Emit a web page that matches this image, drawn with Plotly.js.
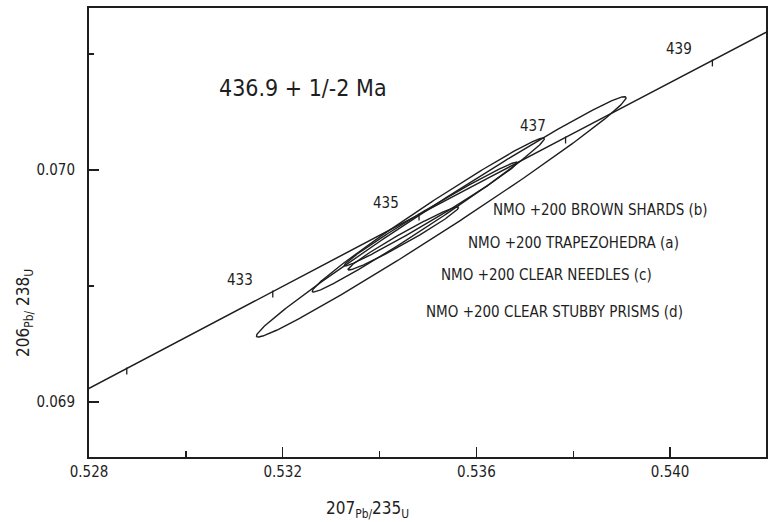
<!DOCTYPE html>
<html>
<head>
<meta charset="utf-8">
<script src="https://cdn.plot.ly/plotly-3.0.1.min.js"></script>
<style>html,body{margin:0;padding:0;background:#fff;}#chart{width:768px;height:522px;}</style>
</head>
<body>
<div id="chart"></div>
<script>
// Concordia curve points (age in Ma, 207Pb/235U, 206Pb/238U)
const ages  = [430, 431, 432, 433, 434, 435, 436, 437, 438, 439, 440];
const concX = [0.527276, 0.528780, 0.530287, 0.531795, 0.533304, 0.534815, 0.536327, 0.537841, 0.539356, 0.540873, 0.542391];
const concY = [0.0689787, 0.0691446, 0.0693104, 0.0694763, 0.0696423, 0.0698082, 0.0699742, 0.0701402, 0.0703062, 0.0704722, 0.0706383];
const tickAges  = [431, 433, 435, 437, 439];
const labelAges = [433, 435, 437, 439];

// Error ellipses (centre, sigma x, sigma y, correlation)
const ellNames = ["NMO +200 BROWN SHARDS (b)", "NMO +200 TRAPEZOHEDRA (a)", "NMO +200 CLEAR NEEDLES (c)", "NMO +200 CLEAR STUBBY PRISMS (d)"];
const ellX   = [0.535274, 0.535006, 0.535058, 0.534492];
const ellY   = [0.069798, 0.069806, 0.069810, 0.069705];
const ellSX  = [0.003817, 0.002397, 0.001790, 0.001142];
const ellSY  = [0.000518, 0.000332, 0.000224, 0.000136];
const ellRho = [0.9911, 0.9898, 0.9909, 0.9817];

const ageText = "436.9 + 1/-2 Ma";
const xTicks = [0.528, 0.532, 0.536, 0.540];
const yTicks = [0.069, 0.070];

const FONT = "'Liberation Sans Narrow', 'DejaVu Sans Condensed', 'Arial Narrow', sans-serif";
const INK = "#1e1e1e";

const traces = [];
traces.push({x: concX, y: concY, mode: "lines", line: {color: INK, width: 1.5}, hoverinfo: "skip", showlegend: false});

// age ticks on concordia
const tx = [], ty = [];
tickAges.forEach(a => {
  const i = ages.indexOf(a);
  tx.push(concX[i], concX[i], null);
  ty.push(concY[i] + 0.000004, concY[i] - 0.000026, null);
});
traces.push({x: tx, y: ty, mode: "lines", line: {color: INK, width: 1.3}, hoverinfo: "skip", showlegend: false});

// ellipses
for (let k = 0; k < ellX.length; k++) {
  const ex = [], ey = [];
  const s = Math.sqrt(1 - ellRho[k] * ellRho[k]);
  for (let j = 0; j <= 360; j++) {
    const t = j * Math.PI / 180;
    ex.push(ellX[k] + ellSX[k] * Math.cos(t));
    ey.push(ellY[k] + ellSY[k] * (ellRho[k] * Math.cos(t) + s * Math.sin(t)));
  }
  traces.push({x: ex, y: ey, mode: "lines", name: ellNames[k], line: {color: INK, width: 1.4}, hoverinfo: "skip", showlegend: false});
}

const annotations = [];
labelAges.forEach(a => {
  const i = ages.indexOf(a);
  annotations.push({x: concX[i], y: concY[i], xref: "x", yref: "y", text: String(a), showarrow: false,
    xanchor: "center", yanchor: "middle",
    xshift: -33, yshift: 11, font: {family: FONT, size: 15, color: INK}});
});
annotations.push({x: 0.316, y: 0.822, xref: "paper", yref: "paper", text: ageText, showarrow: false,
  xanchor: "center", yanchor: "middle", font: {family: FONT, size: 23, color: INK}});
const labPos = [[0.755, 0.550], [0.716, 0.477], [0.676, 0.405], [0.688, 0.323]];
ellNames.forEach((n, k) => {
  annotations.push({x: labPos[k][0], y: labPos[k][1], xref: "paper", yref: "paper", text: n, showarrow: false,
    xanchor: "center", yanchor: "middle", font: {family: FONT, size: 15, color: INK}});
});
annotations.push({x: 0.412, y: -0.118, xref: "paper", yref: "paper", showarrow: false,
  xanchor: "center", yanchor: "middle",
  text: "207<sub>Pb/</sub>235<sub>U</sub>", font: {family: FONT, size: 17, color: INK}});
annotations.push({x: -0.0945, y: 0.321, xref: "paper", yref: "paper", showarrow: false, textangle: -90,
  xanchor: "center", yanchor: "middle",
  text: "206<sub>Pb/</sub> 238<sub>U</sub>", font: {family: FONT, size: 17, color: INK}});

const axisCommon = {
  showgrid: false, zeroline: false, showline: true, mirror: true,
  linecolor: INK, linewidth: 2, ticks: "inside", tickcolor: INK, tickwidth: 1.5, ticklen: 10,
  tickfont: {family: FONT, size: 15, color: INK}, tickformat: ".3f"
};

const layout = {
  width: 768, height: 522,
  margin: {l: 89, r: 2, t: 8, b: 65},
  paper_bgcolor: "#fff", plot_bgcolor: "#fff",
  showlegend: false,
  xaxis: Object.assign({}, axisCommon, {range: [0.528, 0.54198], tickmode: "array", tickvals: xTicks,
    minor: {dtick: 0.002, tick0: 0.528, ticks: "inside", ticklen: 6, tickcolor: INK, tickwidth: 1.5, showgrid: false}}),
  yaxis: Object.assign({}, axisCommon, {range: [0.068763, 0.070698], tickmode: "array", tickvals: yTicks, ticklabelstandoff: 9,
    minor: {dtick: 0.0005, tick0: 0.069, ticks: "inside", ticklen: 5, tickcolor: INK, tickwidth: 1.5, showgrid: false}}),
  annotations: annotations
};

Plotly.newPlot("chart", traces, layout, {staticPlot: true, displayModeBar: false});
</script>
</body>
</html>
